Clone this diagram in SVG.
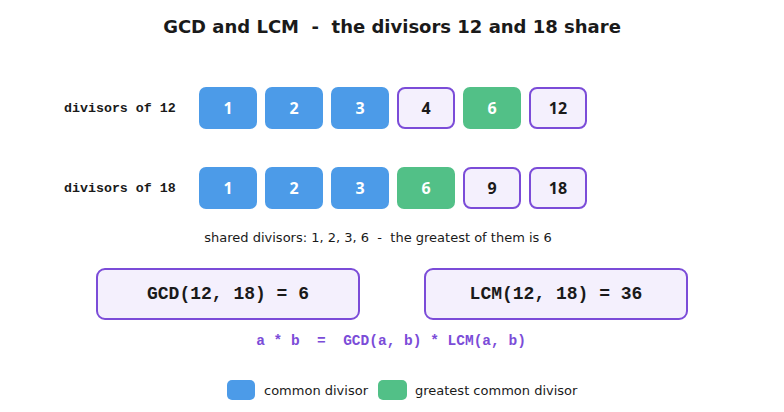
<svg xmlns="http://www.w3.org/2000/svg" width="784" height="412" viewBox="0 0 784 412">
<style>
.b{fill:#4c9be8}.g{fill:#52c087}.o{fill:#f4f0fd;stroke:#7b4cd8;stroke-width:2}
.n{font-family:"Open Sans","Liberation Sans",sans-serif;font-size:16px;font-weight:bold;text-anchor:middle;dominant-baseline:central}
.w{fill:#fff}.k{fill:#1a1a1a}
.lab{font-family:"Liberation Mono",monospace;font-size:13.3px;font-weight:bold;fill:#1a1a1a;dominant-baseline:central}
.s{font-family:"DejaVu Sans",sans-serif;font-size:13px;fill:#1a1a1a;dominant-baseline:central}
.m{font-family:"Liberation Mono",monospace;font-size:18px;font-weight:bold;fill:#1a1a1a;text-anchor:middle;dominant-baseline:central}
</style>
<rect width="784" height="412" fill="#fff"/>
<text x="392" y="26" text-anchor="middle" dominant-baseline="central" font-family="DejaVu Sans,sans-serif" font-size="18" font-weight="bold" fill="#1a1a1a" xml:space="preserve">GCD and LCM  -  the divisors 12 and 18 share</text>
<text class="lab" x="64" y="108">divisors of 12</text>
<text class="lab" x="64" y="188">divisors of 18</text>
<g id="r1">
<rect class="b" x="199" y="87" width="58" height="42" rx="7"/><text class="n w" x="228" y="108">1</text>
<rect class="b" x="265" y="87" width="58" height="42" rx="7"/><text class="n w" x="294" y="108">2</text>
<rect class="b" x="331" y="87" width="58" height="42" rx="7"/><text class="n w" x="360" y="108">3</text>
<rect class="o" x="398" y="88" width="56" height="40" rx="7"/><text class="n k" x="426" y="108">4</text>
<rect class="g" x="463" y="87" width="58" height="42" rx="7"/><text class="n w" x="492" y="108">6</text>
<rect class="o" x="530" y="88" width="56" height="40" rx="7"/><text class="n k" x="558" y="108">12</text>
</g>
<g id="r2">
<rect class="b" x="199" y="167" width="58" height="42" rx="7"/><text class="n w" x="228" y="188">1</text>
<rect class="b" x="265" y="167" width="58" height="42" rx="7"/><text class="n w" x="294" y="188">2</text>
<rect class="b" x="331" y="167" width="58" height="42" rx="7"/><text class="n w" x="360" y="188">3</text>
<rect class="g" x="397" y="167" width="58" height="42" rx="7"/><text class="n w" x="426" y="188">6</text>
<rect class="o" x="464" y="168" width="56" height="40" rx="7"/><text class="n k" x="492" y="188">9</text>
<rect class="o" x="530" y="168" width="56" height="40" rx="7"/><text class="n k" x="558" y="188">18</text>
</g>
<text class="s" x="378" y="237" text-anchor="middle" xml:space="preserve">shared divisors: 1, 2, 3, 6  -  the greatest of them is 6</text>
<g id="gcd"><rect class="o" x="97" y="269" width="262" height="50" rx="8"/>
<text class="m" x="228" y="294">GCD(12, 18) = 6</text></g>
<g id="lcm"><rect class="o" x="425" y="269" width="262" height="50" rx="8"/>
<text class="m" x="556" y="294">LCM(12, 18) = 36</text></g>
<text x="391" y="341" text-anchor="middle" dominant-baseline="central" font-family="Liberation Mono,monospace" font-size="14.5" font-weight="bold" fill="#7b4cd8" xml:space="preserve">a * b  =  GCD(a, b) * LCM(a, b)</text>
<g id="legend">
<rect class="b" x="227" y="380" width="28" height="20" rx="5"/><text class="s" x="264" y="390" font-size="12.7">common divisor</text>
<rect class="g" x="378" y="380" width="29" height="20" rx="5"/><text class="s" x="415" y="390" font-size="12.7">greatest common divisor</text>
</g>
</svg>
